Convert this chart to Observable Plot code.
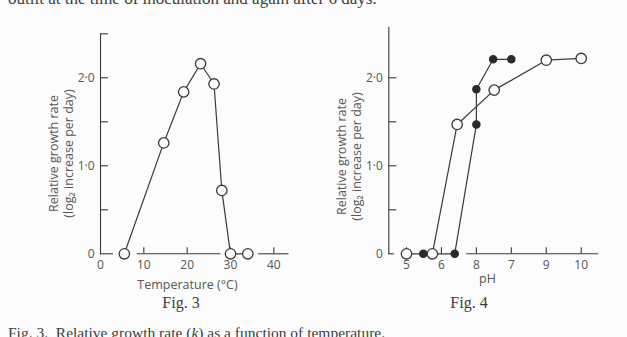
<!DOCTYPE html>
<html><head><meta charset="utf-8">
<script src="https://cdn.jsdelivr.net/npm/d3@7"></script>
<script src="https://cdn.jsdelivr.net/npm/@observablehq/plot@0.6"></script>
<style>
html,body{margin:0;padding:0;background:#fcfcfc;}
#page{position:relative;width:627px;height:337px;overflow:hidden;background:#fcfcfc;}
.serif{font-family:"Liberation Serif","DejaVu Serif",serif;color:#3c3c3c;position:absolute;white-space:nowrap;}
.figpanel{position:absolute;top:0;}
.figtitle{transform:translateX(-50%);font-size:16px;}
</style></head><body>
<div id="page">
  <div class="serif" style="left:8px;top:-11px;font-size:17px;">outlit at the time of inoculation and again after 6 days.</div>
  <div id="fig3" class="figpanel" style="left:0px"></div>
  <div id="fig4" class="figpanel" style="left:320px"></div>
  <div class="serif figtitle" style="left:181px;top:294px;">Fig. 3</div>
  <div class="serif figtitle" style="left:469px;top:294px;">Fig. 4</div>
  <div class="serif" style="left:8px;top:324px;font-size:15.5px;">Fig. 3.&nbsp; Relative growth rate (<i>k</i>) as a function of temperature.</div>
</div>
<script>
// ---- Fig. 3: temperature ----
const tempC    = [5.5, 14.6, 19.2, 23.1, 26.2, 28.0, 30.0, 34.0];
const tempRate = [0,   1.26, 1.84, 2.16, 1.93, 0.72, 0,    0];
const tempTicks = [10, 20, 30, 40];
const tempTickValues = [0, 10, 20, 30, 40];
const tempTickLabels = ["0", "10", "20", "30", "40"];
const tempAxisSegments = [[0, 3.0], [8.5, 27.8], [36.5, 43.5]];
const tempYTicks = [0.5, 1, 1.5, 2, 2.5];

// ---- Fig. 4: pH ----
const pHOpen     = [5.0, 5.74, 6.45, 7.51, 9.0, 10.0];
const rateOpen   = [0,   0,    1.47, 1.86, 2.2, 2.22];
const pHFilled   = [5.48, 6.38, 7.0,  7.0,  7.48, 8.0];
const rateFilled = [0,    0,    1.47, 1.87, 2.21, 2.21];
const pHTickValues = [5, 6, 7, 8, 9, 10];
const pHTickLabels = ["5", "6", "8", "7", "9", "10"];
const pHAxisSegments = [[4.49, 4.65], [6.72, 10.5]];
const pHYTicks = [0.5, 1, 1.5, 2];

// shared y labels
const rateLabelValues = [0, 1, 2];
const rateLabels = ["0", "1·0", "2·0"];
const yTitle = "Relative growth rate\n(log₂ increase per day)";

const ink = "#3a3a3a";
const textCol = "#555";

function panel({width, mL, mT, mR, xDomain, xRange, xTicksUp, xLabVals, xLabs, segs, yTicks,
                series, xTitle, xTitleDx, xTitleDy, yTitleDx, yTitleDy}) {
  const height = 300, yZero = 253.3;
  const mB = height - yZero;
  const frameW = width - mL - mR;
  const frameH = yZero - mT;
  const marks = [
    Plot.frame({anchor: "left", stroke: ink, strokeWidth: 1.1}),
    Plot.ruleY(segs, {y: 0, x1: d => d[0], x2: d => d[1], stroke: ink, strokeWidth: 1.1}),
    Plot.tickY(yTicks, {y: d => d, insetLeft: 0, insetRight: frameW - 8, stroke: ink, strokeWidth: 1.1}),
    Plot.tickX(xTicksUp, {x: d => d, insetTop: frameH - 6, insetBottom: 0, stroke: ink, strokeWidth: 1.1}),
    Plot.axisY(rateLabelValues, {tickSize: 0, tickPadding: 6, tickFormat: d => rateLabels[rateLabelValues.indexOf(d)], fontSize: 12, label: null}),
    Plot.axisX(xLabVals, {tickSize: 0, tickPadding: 7, tickFormat: d => xLabs[xLabVals.indexOf(d)], fontSize: 12, label: null}),
    Plot.text([yTitle], {frameAnchor: "left", textAnchor: "middle", lineAnchor: "middle", rotate: -90, dx: yTitleDx, dy: yTitleDy, fontSize: 12.5, lineHeight: 1.17, fill: textCol}),
    Plot.text([xTitle], {frameAnchor: "bottom", textAnchor: "middle", lineAnchor: "middle", dx: xTitleDx, dy: xTitleDy, fontSize: 12.5, fill: textCol})
  ];
  for (const s of series) {
    marks.push(Plot.line(s.x.map((x, i) => ({x, y: s.y[i]})), {x: "x", y: "y", stroke: ink, strokeWidth: 1.2}));
  }
  for (const s of series) {
    const pts = s.x.map((x, i) => ({x, y: s.y[i]}));
    marks.push(Plot.dot(pts, {x: "x", y: "y", r: s.filled ? 3.6 : 5.2,
      fill: s.filled ? "#2a2a2a" : "#fcfcfc", stroke: s.filled ? "#2a2a2a" : ink, strokeWidth: 1.3}));
  }
  return Plot.plot({
    width, height,
    marginLeft: mL, marginTop: mT, marginRight: mR, marginBottom: mB,
    style: {fontFamily: "'Open Sans', Lato, sans-serif", color: textCol, background: "transparent", overflow: "visible"},
    x: {domain: xDomain, range: xRange},
    y: {domain: [0, 2.5], range: [yZero, yZero - 2.5 * 88]},
    marks
  });
}

document.getElementById("fig3").append(panel({
  width: 320, mL: 100, mT: 34, mR: 20,
  xDomain: [0, 40], xRange: [100, 273.3],
  xTicksUp: tempTicks, xLabVals: tempTickValues, xLabs: tempTickLabels,
  segs: tempAxisSegments, yTicks: tempYTicks,
  series: [{x: tempC, y: tempRate, filled: false}],
  xTitle: "Temperature (°C)", xTitleDx: 187 - 200, xTitleDy: 284 - 253.3,
  yTitleDx: -39.5, yTitleDy: 153 - 143.7
}));

document.getElementById("fig4").append(panel({
  width: 307, mL: 68.3, mT: 26.7, mR: 27,
  xDomain: [5, 10], xRange: [86, 260.7],
  xTicksUp: pHTickValues, xLabVals: pHTickValues, xLabs: pHTickLabels,
  segs: pHAxisSegments, yTicks: pHYTicks,
  series: [{x: pHOpen, y: rateOpen, filled: false}, {x: pHFilled, y: rateFilled, filled: true}],
  xTitle: "pH", xTitleDx: 167 - (68.3 + 280) / 2, xTitleDy: 278 - 253.3,
  yTitleDx: -40, yTitleDy: 156 - 140
}));
</script>
</body></html>
